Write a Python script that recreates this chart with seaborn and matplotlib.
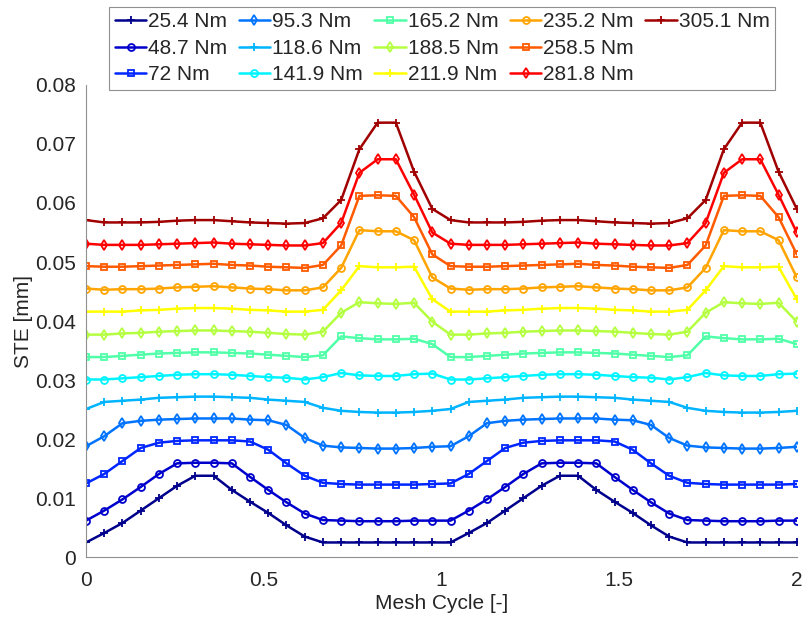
"""
Static transmission error vs mesh cycle for a range of input torques.
"""

import numpy as np
import pandas as pd
import matplotlib
matplotlib.use("Agg")
import matplotlib.pyplot as plt
from matplotlib.lines import Line2D
import seaborn as sns

# Data
mesh_cycle = np.linspace(0, 2, 40)

torque_labels = ["25.4 Nm", "48.7 Nm", "72 Nm", "95.3 Nm", "118.6 Nm", "141.9 Nm",
                 "165.2 Nm", "188.5 Nm", "211.9 Nm", "235.2 Nm", "258.5 Nm",
                 "281.8 Nm", "305.1 Nm"]

ste_25_4 = [0.0025, 0.0041, 0.0058, 0.0079, 0.0100, 0.0121, 0.0138, 0.0138, 0.0114, 0.0094,
            0.0075, 0.0054, 0.0035, 0.0025, 0.0025, 0.0025, 0.0025, 0.0025, 0.0025, 0.0025,
            0.0025, 0.0041, 0.0058, 0.0079, 0.0100, 0.0121, 0.0138, 0.0138, 0.0114, 0.0094,
            0.0075, 0.0054, 0.0035, 0.0025, 0.0025, 0.0025, 0.0025, 0.0025, 0.0025, 0.0025]
ste_48_7 = [0.0062, 0.0079, 0.0098, 0.0119, 0.0141, 0.0159, 0.0160, 0.0160, 0.0159, 0.0136,
            0.0114, 0.0093, 0.0074, 0.0063, 0.0062, 0.0061, 0.0061, 0.0061, 0.0062, 0.0062,
            0.0062, 0.0079, 0.0098, 0.0119, 0.0141, 0.0159, 0.0160, 0.0160, 0.0159, 0.0136,
            0.0114, 0.0093, 0.0074, 0.0063, 0.0062, 0.0061, 0.0061, 0.0061, 0.0062, 0.0062]
ste_72 = [0.0125, 0.0141, 0.0163, 0.0185, 0.0194, 0.0197, 0.0198, 0.0198, 0.0198, 0.0196,
          0.0182, 0.0159, 0.0138, 0.0126, 0.0124, 0.0123, 0.0123, 0.0123, 0.0123, 0.0124,
          0.0125, 0.0141, 0.0163, 0.0185, 0.0194, 0.0197, 0.0198, 0.0198, 0.0198, 0.0196,
          0.0182, 0.0159, 0.0138, 0.0126, 0.0124, 0.0123, 0.0123, 0.0123, 0.0123, 0.0124]
ste_95_3 = [0.0188, 0.0205, 0.0227, 0.0231, 0.0233, 0.0234, 0.0235, 0.0235, 0.0235, 0.0233,
            0.0232, 0.0224, 0.0202, 0.0189, 0.0186, 0.0185, 0.0184, 0.0184, 0.0185, 0.0187,
            0.0188, 0.0205, 0.0227, 0.0231, 0.0233, 0.0234, 0.0235, 0.0235, 0.0235, 0.0233,
            0.0232, 0.0224, 0.0202, 0.0189, 0.0186, 0.0185, 0.0184, 0.0184, 0.0185, 0.0187]
ste_118_6 = [0.0251, 0.0263, 0.0265, 0.0267, 0.0270, 0.0271, 0.0272, 0.0272, 0.0271, 0.0270,
             0.0267, 0.0265, 0.0263, 0.0253, 0.0248, 0.0246, 0.0245, 0.0245, 0.0246, 0.0248,
             0.0251, 0.0263, 0.0265, 0.0267, 0.0270, 0.0271, 0.0272, 0.0272, 0.0271, 0.0270,
             0.0267, 0.0265, 0.0263, 0.0253, 0.0248, 0.0246, 0.0245, 0.0245, 0.0246, 0.0248]
ste_141_9 = [0.0301, 0.0301, 0.0303, 0.0305, 0.0307, 0.0309, 0.0310, 0.0310, 0.0309, 0.0307,
             0.0305, 0.0304, 0.0301, 0.0305, 0.0312, 0.0308, 0.0307, 0.0307, 0.0310, 0.0311,
             0.0301, 0.0301, 0.0303, 0.0305, 0.0307, 0.0309, 0.0310, 0.0310, 0.0309, 0.0307,
             0.0305, 0.0304, 0.0301, 0.0305, 0.0312, 0.0308, 0.0307, 0.0307, 0.0310, 0.0311]
ste_165_2 = [0.0339, 0.0339, 0.0341, 0.0343, 0.0345, 0.0346, 0.0347, 0.0347, 0.0346, 0.0345,
             0.0343, 0.0341, 0.0339, 0.0342, 0.0374, 0.0371, 0.0369, 0.0369, 0.0370, 0.0361,
             0.0339, 0.0339, 0.0341, 0.0343, 0.0345, 0.0346, 0.0347, 0.0347, 0.0346, 0.0345,
             0.0343, 0.0341, 0.0339, 0.0342, 0.0374, 0.0371, 0.0369, 0.0369, 0.0370, 0.0361]
ste_188_5 = [0.0377, 0.0377, 0.0379, 0.0380, 0.0382, 0.0383, 0.0384, 0.0384, 0.0383, 0.0382,
             0.0380, 0.0378, 0.0377, 0.0382, 0.0414, 0.0432, 0.0430, 0.0429, 0.0431, 0.0399,
             0.0377, 0.0377, 0.0379, 0.0380, 0.0382, 0.0383, 0.0384, 0.0384, 0.0383, 0.0382,
             0.0380, 0.0378, 0.0377, 0.0382, 0.0414, 0.0432, 0.0430, 0.0429, 0.0431, 0.0399]
ste_211_9 = [0.0416, 0.0416, 0.0416, 0.0418, 0.0419, 0.0421, 0.0422, 0.0422, 0.0421, 0.0419,
             0.0418, 0.0416, 0.0416, 0.0419, 0.0452, 0.0493, 0.0491, 0.0491, 0.0492, 0.0437,
             0.0416, 0.0416, 0.0416, 0.0418, 0.0419, 0.0421, 0.0422, 0.0422, 0.0421, 0.0419,
             0.0418, 0.0416, 0.0416, 0.0419, 0.0452, 0.0493, 0.0491, 0.0491, 0.0492, 0.0437]
ste_235_2 = [0.0455, 0.0453, 0.0454, 0.0454, 0.0455, 0.0457, 0.0458, 0.0459, 0.0457, 0.0455,
             0.0454, 0.0452, 0.0452, 0.0457, 0.0490, 0.0554, 0.0552, 0.0552, 0.0537, 0.0474,
             0.0455, 0.0453, 0.0454, 0.0454, 0.0455, 0.0457, 0.0458, 0.0459, 0.0457, 0.0455,
             0.0454, 0.0452, 0.0452, 0.0457, 0.0490, 0.0554, 0.0552, 0.0552, 0.0537, 0.0474]
ste_258_5 = [0.0493, 0.0492, 0.0492, 0.0493, 0.0494, 0.0495, 0.0496, 0.0497, 0.0495, 0.0494,
             0.0492, 0.0491, 0.0490, 0.0495, 0.0528, 0.0612, 0.0613, 0.0612, 0.0576, 0.0513,
             0.0493, 0.0492, 0.0492, 0.0493, 0.0494, 0.0495, 0.0496, 0.0497, 0.0495, 0.0494,
             0.0492, 0.0491, 0.0490, 0.0495, 0.0528, 0.0612, 0.0613, 0.0612, 0.0576, 0.0513]
ste_281_8 = [0.0531, 0.0529, 0.0529, 0.0529, 0.0530, 0.0531, 0.0532, 0.0533, 0.0531, 0.0530,
             0.0529, 0.0528, 0.0528, 0.0532, 0.0566, 0.0651, 0.0674, 0.0674, 0.0614, 0.0550,
             0.0531, 0.0529, 0.0529, 0.0529, 0.0530, 0.0531, 0.0532, 0.0533, 0.0531, 0.0530,
             0.0529, 0.0528, 0.0528, 0.0532, 0.0566, 0.0651, 0.0674, 0.0674, 0.0614, 0.0550]
ste_305_1 = [0.0571, 0.0567, 0.0567, 0.0567, 0.0568, 0.0570, 0.0571, 0.0571, 0.0569, 0.0567,
             0.0566, 0.0565, 0.0566, 0.0574, 0.0605, 0.0691, 0.0736, 0.0736, 0.0653, 0.0590,
             0.0571, 0.0567, 0.0567, 0.0567, 0.0568, 0.0570, 0.0571, 0.0571, 0.0569, 0.0567,
             0.0566, 0.0565, 0.0566, 0.0574, 0.0605, 0.0691, 0.0736, 0.0736, 0.0653, 0.0590]

series = [ste_25_4, ste_48_7, ste_72, ste_95_3, ste_118_6, ste_141_9, ste_165_2,
          ste_188_5, ste_211_9, ste_235_2, ste_258_5, ste_281_8, ste_305_1]

# jet-like colours, one per torque
colors = ["#00008c", "#0000cc", "#0026ff", "#0073ff", "#00b4ff", "#00f4ff", "#50ffa8",
          "#b4ff40", "#ffff00", "#ffa400", "#ff5a00", "#ff0000", "#a00000"]
markers = ["+", "o", "s", "d"] * 3 + ["+"]

sns.set_theme(style="white")
plt.rcParams["font.family"] = ["Liberation Sans", "DejaVu Sans"]

fig = plt.figure(figsize=(8.04, 6.24), dpi=100)
ax = fig.add_axes([0.107, 0.107, 0.884, 0.757])

for label, vals, c, m in zip(torque_labels, series, colors, markers):
    df = pd.DataFrame({"Mesh Cycle": mesh_cycle, "STE": vals})
    sns.lineplot(data=df, x="Mesh Cycle", y="STE", ax=ax, color=c, marker=m,
                 markersize=6 if m == "+" else 5, mfc="none", mec=c, mew=1.3,
                 linewidth=1.8, label=label, legend=False)

ax.set_xlim(0, 2)
ax.set_ylim(0, 0.08)
ax.set_xticks([0, 0.5, 1, 1.5, 2])
ax.set_xticklabels(["0", "0.5", "1", "1.5", "2"])
ax.set_yticks(np.arange(0, 0.081, 0.01))
ax.set_yticklabels(["0", "0.01", "0.02", "0.03", "0.04", "0.05", "0.06", "0.07", "0.08"])
ax.tick_params(direction="in", length=5, width=0.8, color="#808080",
               labelsize=15, labelcolor="#262626")
ax.tick_params(axis="x", pad=10)
ax.tick_params(axis="y", pad=7)
ax.set_xlabel("Mesh Cycle [-]", fontsize=15, color="#262626", labelpad=3)
ax.set_ylabel("STE [mm]", fontsize=15, color="#262626", labelpad=2)

for side in ["top", "right"]:
    ax.spines[side].set_visible(False)
for side in ["left", "bottom"]:
    ax.spines[side].set_color("#909090")
    ax.spines[side].set_linewidth(0.8)

# pad to 15 entries so the last column holds only 305.1 Nm
handles, labels = ax.get_legend_handles_labels()
blank = Line2D([], [], linestyle="none", marker="none")
handles += [blank, blank]
labels += ["", ""]
leg = fig.legend(handles, labels, loc="upper center", bbox_to_anchor=(0.550, 0.9895),
                 ncol=5, fontsize=15, frameon=True, fancybox=False, framealpha=1,
                 edgecolor="#909090", handlelength=1.5, handletextpad=0.1,
                 columnspacing=0.55, labelspacing=0.36, borderpad=0.28,
                 borderaxespad=0)
leg.get_frame().set_linewidth(0.8)

fig.savefig("out.png", dpi=100)
plt.close(fig)
